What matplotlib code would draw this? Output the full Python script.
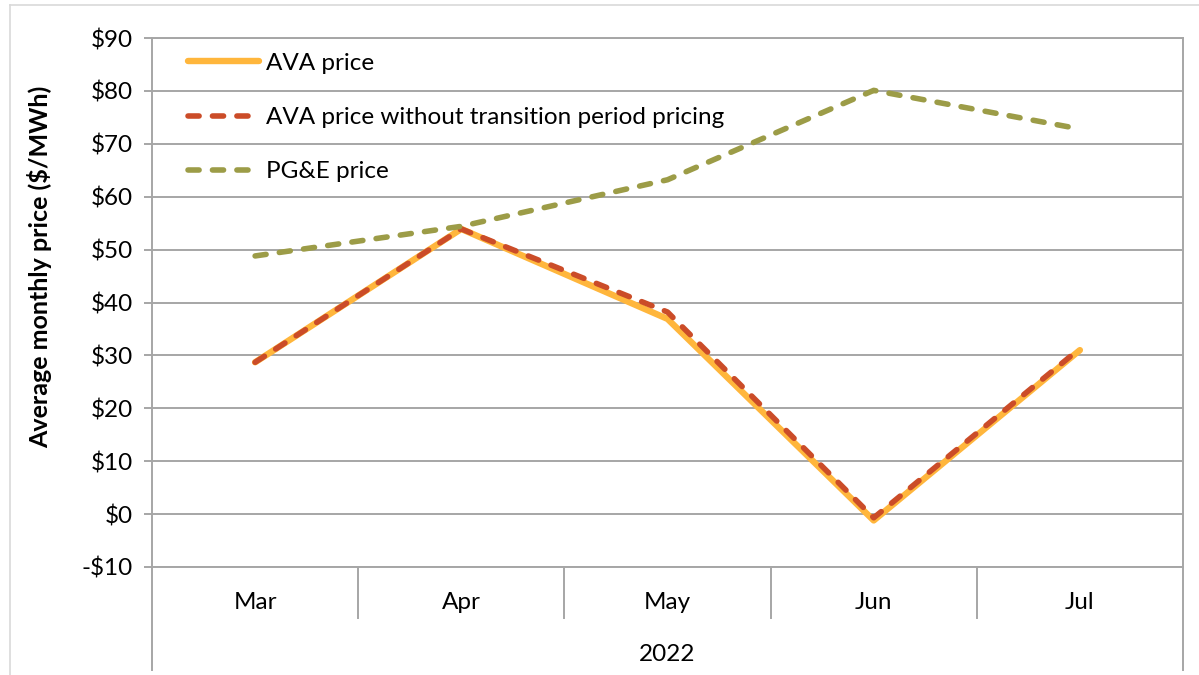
import matplotlib
matplotlib.use("Agg")
import matplotlib.pyplot as plt
from matplotlib.lines import Line2D
import matplotlib.transforms as mtrans

plt.rcParams['font.family'] = ['Lato', 'DejaVu Sans']

months = ['Mar', 'Apr', 'May', 'Jun', 'Jul']
year_label = '2022'
ava_price = [28.7, 53.9, 36.9, -1.2, 31.0]
ava_no_transition = [28.7, 53.9, 38.2, -0.7, 31.3]
pge_price = [48.8, 54.4, 63.2, 80.1, 72.8]
y_ticks = [-10, 0, 10, 20, 30, 40, 50, 60, 70, 80, 90]

grid_col = '#A6A6A6'
fs = 17.5

fig = plt.figure(figsize=(11.99, 6.75), dpi=100)
ax = fig.add_axes([152/1199, 108/675, 1031/1199, 529/675])

x = [i + 0.5 for i in range(len(months))]
ax.plot(x, ava_price, color='#FFB63C', lw=4.6, solid_capstyle='round',
        solid_joinstyle='round', label='AVA price', zorder=3)
ax.plot(x, ava_no_transition, color='#CB4C28', lw=4.0, dashes=(2.0, 2.4),
        dash_capstyle='round', label='AVA price without transition period pricing', zorder=4)
ax.plot(x, pge_price, color='#9C9C47', lw=4.0, dashes=(2.0, 2.4),
        dash_capstyle='round', label='PG&E price', zorder=5)

ax.set_xlim(0, len(months))
ax.set_ylim(-10, 90)
ax.set_yticks(y_ticks)
ax.set_yticklabels([('-$%d' % -v) if v < 0 else ('$%d' % v) for v in y_ticks], fontsize=fs)
ax.yaxis.grid(True, color=grid_col, lw=1.4)
ax.set_axisbelow(True)
ax.tick_params(axis='y', length=6, width=1.4, color=grid_col, pad=8)
ax.set_xticks([])
for s in ax.spines.values():
    s.set_color(grid_col)
    s.set_linewidth(1.4)

ax.set_ylabel('Average monthly price ($/MWh)', fontsize=18, fontweight='bold')
ax.yaxis.set_label_coords(-0.097, 0.568)

# category axis below plot
trans = mtrans.blended_transform_factory(ax.transData, ax.transAxes)
for i in range(1, len(months)):
    ax.add_line(Line2D([i, i], [0, -0.097], transform=trans, color=grid_col,
                       lw=1.4, clip_on=False))
for i in (0, len(months)):
    ax.add_line(Line2D([i, i], [0, -0.195], transform=trans, color=grid_col,
                       lw=1.4, clip_on=False))
for xi, m in zip(x, months):
    ax.text(xi, -0.068, m, transform=trans, ha='center', va='center', fontsize=fs)
ax.text(len(months) / 2, -0.166, year_label, transform=trans, ha='center',
        va='center', fontsize=fs)

leg = ax.legend(loc='upper left', bbox_to_anchor=(0.035, 0.972), frameon=False,
                fontsize=fs, handlelength=2.9, handletextpad=0.3,
                labelspacing=1.37, borderpad=0, borderaxespad=0)

# outer chart border
fig.add_artist(Line2D([10/1199, 10/1199], [0, 1 - 5/675], transform=fig.transFigure,
                      color='#D9D9D9', lw=1.2))
fig.add_artist(Line2D([10/1199, 1], [1 - 5/675, 1 - 5/675], transform=fig.transFigure,
                      color='#D9D9D9', lw=1.2))

fig.savefig('out.png', dpi=100)
